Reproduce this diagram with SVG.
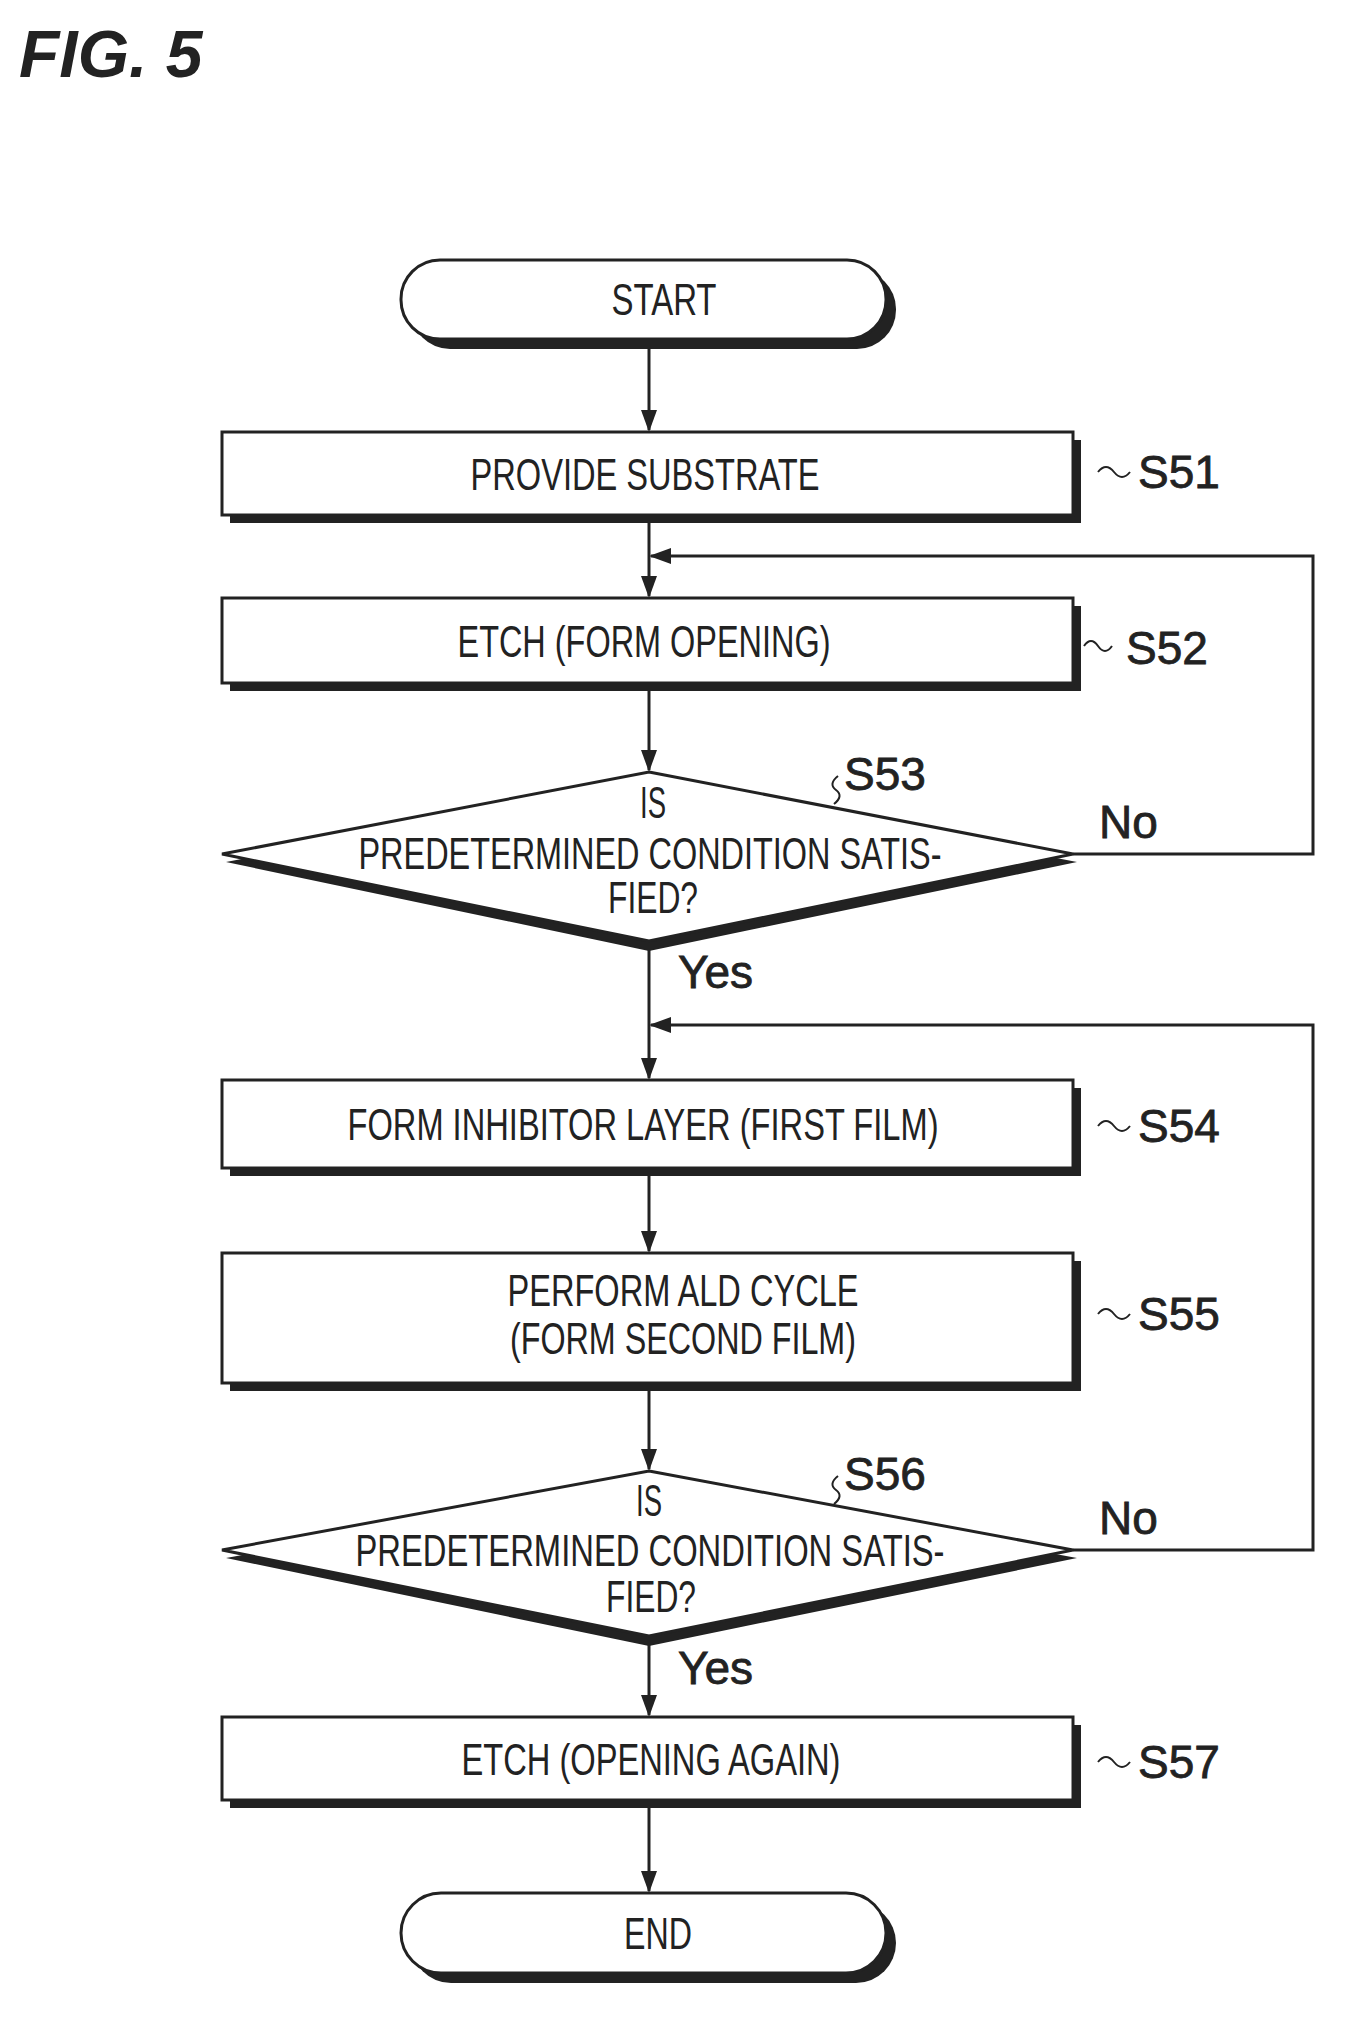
<svg xmlns="http://www.w3.org/2000/svg" width="1345" height="2020" viewBox="0 0 1345 2020">
<style>
.b{fill:#fff;stroke:#222;stroke-width:3}
.sh{fill:#222}
.t{font-family:"Liberation Sans",Arial,sans-serif;font-size:44px;fill:#222;text-anchor:middle}
.l{font-family:"Liberation Sans",Arial,sans-serif;font-size:46px;fill:#222;stroke:#222;stroke-width:0.8}
.c{fill:none;stroke:#222;stroke-width:3}
.tl{fill:none;stroke:#222;stroke-width:2}
</style>
<defs>
<marker id="ah" markerWidth="22" markerHeight="22" refX="20" refY="11" orient="auto" markerUnits="userSpaceOnUse"><path d="M0,3 L22,11 L0,19 z" fill="#222"/></marker></defs>
<text x="19" y="77" style="font-family:'Liberation Sans',Arial,sans-serif;font-size:66px;font-style:italic;font-weight:bold;fill:#222">FIG. 5</text>
<g id="connectors">
<path class="c" d="M649,339 V430" marker-end="url(#ah)"/>
<path class="c" d="M649,515 V596" marker-end="url(#ah)"/>
<path class="c" d="M649,683 V770" marker-end="url(#ah)"/>
<path class="c" d="M649,941 V1078" marker-end="url(#ah)"/>
<path class="c" d="M649,1168 V1251" marker-end="url(#ah)"/>
<path class="c" d="M649,1383 V1469" marker-end="url(#ah)"/>
<path class="c" d="M649,1636 V1715" marker-end="url(#ah)"/>
<path class="c" d="M649,1800 V1891" marker-end="url(#ah)"/>
<path class="c" d="M1073,854 H1313 V556 H651" marker-end="url(#ah)"/>
<path class="c" d="M1073,1550 H1313 V1025 H651" marker-end="url(#ah)"/>
<text class="l" x="1099" y="838">No</text>
<text class="l" x="678" y="988">Yes</text>
<text class="l" x="1099" y="1534">No</text>
<text class="l" x="678" y="1684">Yes</text>
</g>
<g id="start"><rect class="sh" x="411" y="270" width="485" height="79" rx="39"/><rect class="b" x="401" y="260" width="485" height="79" rx="39"/><text class="t" x="664" y="315" textLength="105" lengthAdjust="spacingAndGlyphs">START</text></g>
<g id="s51"><rect class="sh" x="230" y="440" width="851" height="83"/><rect class="b" x="222" y="432" width="851" height="83"/><text class="t" x="645" y="490" textLength="349" lengthAdjust="spacingAndGlyphs">PROVIDE SUBSTRATE</text><path class="tl" d="M1098,472 q8,-10 16,0 t16,0"/><text class="l" x="1138" y="488">S51</text></g>
<g id="s52"><rect class="sh" x="230" y="606" width="851" height="85"/><rect class="b" x="222" y="598" width="851" height="85"/><text class="t" x="644" y="657" textLength="373" lengthAdjust="spacingAndGlyphs">ETCH (FORM OPENING)</text><path class="tl" d="M1084,646 q7,-10 14,0 t14,0"/><text class="l" x="1126" y="664">S52</text></g>
<g id="s53"><polygon class="sh" points="649,780 1077,862 649,951 226,862"/><polygon class="b" points="649,772 1073,854 649,941 222,854"/><text class="t" x="653" y="818" textLength="26" lengthAdjust="spacingAndGlyphs">IS</text><text class="t" x="650" y="869" textLength="583" lengthAdjust="spacingAndGlyphs">PREDETERMINED CONDITION SATIS-</text><text class="t" x="653" y="913" textLength="90" lengthAdjust="spacingAndGlyphs">FIED?</text><path class="tl" d="M838,776 q-10,8 -2,14 t-2,14"/><text class="l" x="844" y="790">S53</text></g>
<g id="s54"><rect class="sh" x="230" y="1088" width="851" height="88"/><rect class="b" x="222" y="1080" width="851" height="88"/><text class="t" x="643" y="1140" textLength="591" lengthAdjust="spacingAndGlyphs">FORM INHIBITOR LAYER (FIRST FILM)</text><path class="tl" d="M1098,1126 q8,-10 16,0 t16,0"/><text class="l" x="1138" y="1142">S54</text></g>
<g id="s55"><rect class="sh" x="230" y="1261" width="851" height="130"/><rect class="b" x="222" y="1253" width="851" height="130"/><text class="t" x="683" y="1306" textLength="351" lengthAdjust="spacingAndGlyphs">PERFORM ALD CYCLE</text><text class="t" x="683" y="1354" textLength="346" lengthAdjust="spacingAndGlyphs">(FORM SECOND FILM)</text><path class="tl" d="M1098,1314 q8,-10 16,0 t16,0"/><text class="l" x="1138" y="1330">S55</text></g>
<g id="s56"><polygon class="sh" points="649,1479 1077,1558 649,1646 226,1558"/><polygon class="b" points="649,1471 1073,1550 649,1636 222,1550"/><text class="t" x="649" y="1516" textLength="26" lengthAdjust="spacingAndGlyphs">IS</text><text class="t" x="650" y="1566" textLength="589" lengthAdjust="spacingAndGlyphs">PREDETERMINED CONDITION SATIS-</text><text class="t" x="651" y="1612" textLength="90" lengthAdjust="spacingAndGlyphs">FIED?</text><path class="tl" d="M838,1476 q-10,8 -2,14 t-2,14"/><text class="l" x="844" y="1490">S56</text></g>
<g id="s57"><rect class="sh" x="230" y="1725" width="851" height="83"/><rect class="b" x="222" y="1717" width="851" height="83"/><text class="t" x="651" y="1775" textLength="379" lengthAdjust="spacingAndGlyphs">ETCH (OPENING AGAIN)</text><path class="tl" d="M1098,1762 q8,-10 16,0 t16,0"/><text class="l" x="1138" y="1778">S57</text></g>
<g id="end"><rect class="sh" x="411" y="1903" width="485" height="80" rx="40"/><rect class="b" x="401" y="1893" width="485" height="80" rx="40"/><text class="t" x="658" y="1949" textLength="68" lengthAdjust="spacingAndGlyphs">END</text></g>
</svg>
